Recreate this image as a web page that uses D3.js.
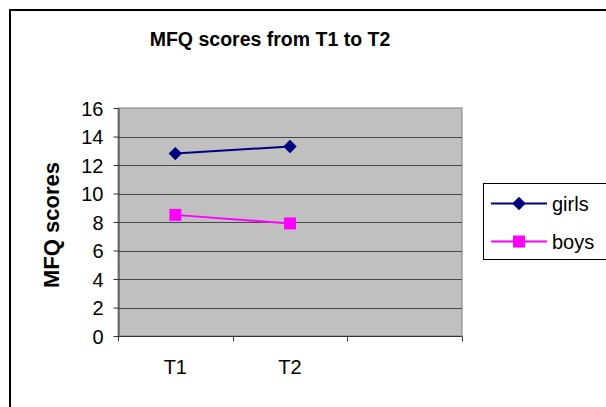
<!DOCTYPE html>
<html>
<head>
<meta charset="utf-8">
<script src="https://cdn.jsdelivr.net/npm/d3@7"></script>
<style>
  body { margin: 0; background: #fff; }
  svg { display: block; font-family: "Liberation Sans", Arial, sans-serif; }
</style>
</head>
<body>
<div id="chart"></div>
<script>
// data
let categories = ["T1", "T2", ""];
let girls = [12.8, 13.3];
let boys = [8.5, 7.9];
let yTicks = [0, 2, 4, 6, 8, 10, 12, 14, 16];

let width = 606,
    height = 407;

let svg = d3.select("#chart").append("svg")
    .attr("width", width)
    .attr("height", height);

// outer chart frame (runs off the right and bottom edges)
svg.append("rect")
    .attr("x", 10).attr("y", 10)
    .attr("width", 620).attr("height", 420)
    .attr("fill", "#fff")
    .attr("stroke", "#000")
    .attr("stroke-width", 2);

let plot = {left: 118, top: 108, right: 462, bottom: 336};

let x = d3.scaleBand()
    .domain(categories.map((d, i) => i))
    .range([plot.left, plot.right]);

let y = d3.scaleLinear()
    .domain([0, 16])
    .range([plot.bottom, plot.top]);

// plot background
svg.append("rect")
    .attr("x", plot.left).attr("y", plot.top)
    .attr("width", plot.right - plot.left)
    .attr("height", plot.bottom - plot.top)
    .attr("fill", "#c0c0c0")
    .attr("stroke", "#808080")
    .attr("stroke-width", 1);

// gridlines
svg.append("g")
    .selectAll("line")
    .data(yTicks.filter(d => d > 0 && d < 16))
    .enter().append("line")
    .attr("x1", plot.left).attr("x2", plot.right)
    .attr("y1", d => Math.round(y(d)) + 0.5)
    .attr("y2", d => Math.round(y(d)) + 0.5)
    .attr("stroke", "#4a4a4a")
    .attr("stroke-width", 1);

// y axis
let yAxis = svg.append("g")
    .attr("transform", "translate(" + (plot.left + 0.5) + ",0)")
    .call(d3.axisLeft(y).tickValues(yTicks).tickSize(5).tickSizeOuter(0));
yAxis.select(".domain").attr("stroke", "#333");
yAxis.selectAll(".tick line").attr("stroke", "#333");
yAxis.selectAll(".tick text")
    .attr("font-size", 20)
    .attr("font-family", "Liberation Sans, Arial, sans-serif")
    .attr("fill", "#000")
    .attr("x", -15)
    .attr("dy", "0.36em");

// x axis: ticks between categories
let xAxis = svg.append("g")
    .attr("transform", "translate(0," + (plot.bottom + 0.5) + ")");
xAxis.append("line")
    .attr("x1", plot.left).attr("x2", plot.right)
    .attr("stroke", "#333");
let boundaries = categories.map((d, i) => x(i)).concat([plot.right]);
xAxis.selectAll(".xtick")
    .data(boundaries)
    .enter().append("line")
    .attr("class", "xtick")
    .attr("x1", d => Math.round(d) + 0.5).attr("x2", d => Math.round(d) + 0.5)
    .attr("y1", 0).attr("y2", 5)
    .attr("stroke", "#333");
xAxis.selectAll(".xlabel")
    .data(categories)
    .enter().append("text")
    .attr("class", "xlabel")
    .attr("x", (d, i) => x(i) + x.bandwidth() / 2)
    .attr("y", 37)
    .attr("text-anchor", "middle")
    .attr("font-size", 20)
    .text(d => d);

// title
svg.append("text")
    .attr("x", 270).attr("y", 46)
    .attr("text-anchor", "middle")
    .attr("font-size", 19.5)
    .attr("font-weight", "bold")
    .text("MFQ scores from T1 to T2");

// y axis title
svg.append("text")
    .attr("transform", "translate(59,225) rotate(-90)")
    .attr("text-anchor", "middle")
    .attr("font-size", 22)
    .attr("font-weight", "bold")
    .text("MFQ scores");

// series
let series = [
    {name: "girls", values: girls, color: "#000080", symbol: d3.symbolSquare, size: 90, rotate: 45},
    {name: "boys", values: boys, color: "#ff00ff", symbol: d3.symbolSquare, size: 144, rotate: 0}
];

let line = d3.line()
    .x((d, i) => x(i) + x.bandwidth() / 2)
    .y(d => y(d));

series.forEach(function (s) {
    svg.append("path")
        .datum(s.values)
        .attr("d", line)
        .attr("fill", "none")
        .attr("stroke", s.color)
        .attr("stroke-width", 2);
    svg.append("g")
        .selectAll("path")
        .data(s.values)
        .enter().append("path")
        .attr("d", d3.symbol().type(s.symbol).size(s.size))
        .attr("transform", (d, i) => "translate(" + (x(i) + x.bandwidth() / 2) + "," + y(d) + ") rotate(" + s.rotate + ")")
        .attr("fill", s.color);
});

// legend
let legend = svg.append("g");
legend.append("rect")
    .attr("x", 483.5).attr("y", 183.5)
    .attr("width", 130).attr("height", 76)
    .attr("fill", "#fff")
    .attr("stroke", "#000")
    .attr("stroke-width", 1);

let legendItem = legend.selectAll(".item")
    .data(series)
    .enter().append("g")
    .attr("class", "item")
    .attr("transform", (d, i) => "translate(0," + (203.5 + i * 38) + ")");
legendItem.append("line")
    .attr("x1", 491).attr("x2", 547)
    .attr("stroke", d => d.color)
    .attr("stroke-width", 2);
legendItem.append("path")
    .attr("d", d => d3.symbol().type(d.symbol).size(d.size)())
    .attr("transform", d => "translate(519,0) rotate(" + d.rotate + ")")
    .attr("fill", d => d.color);
legendItem.append("text")
    .attr("x", 552)
    .attr("dy", "0.36em")
    .attr("font-size", 20)
    .text(d => d.name);
</script>
</body>
</html>
